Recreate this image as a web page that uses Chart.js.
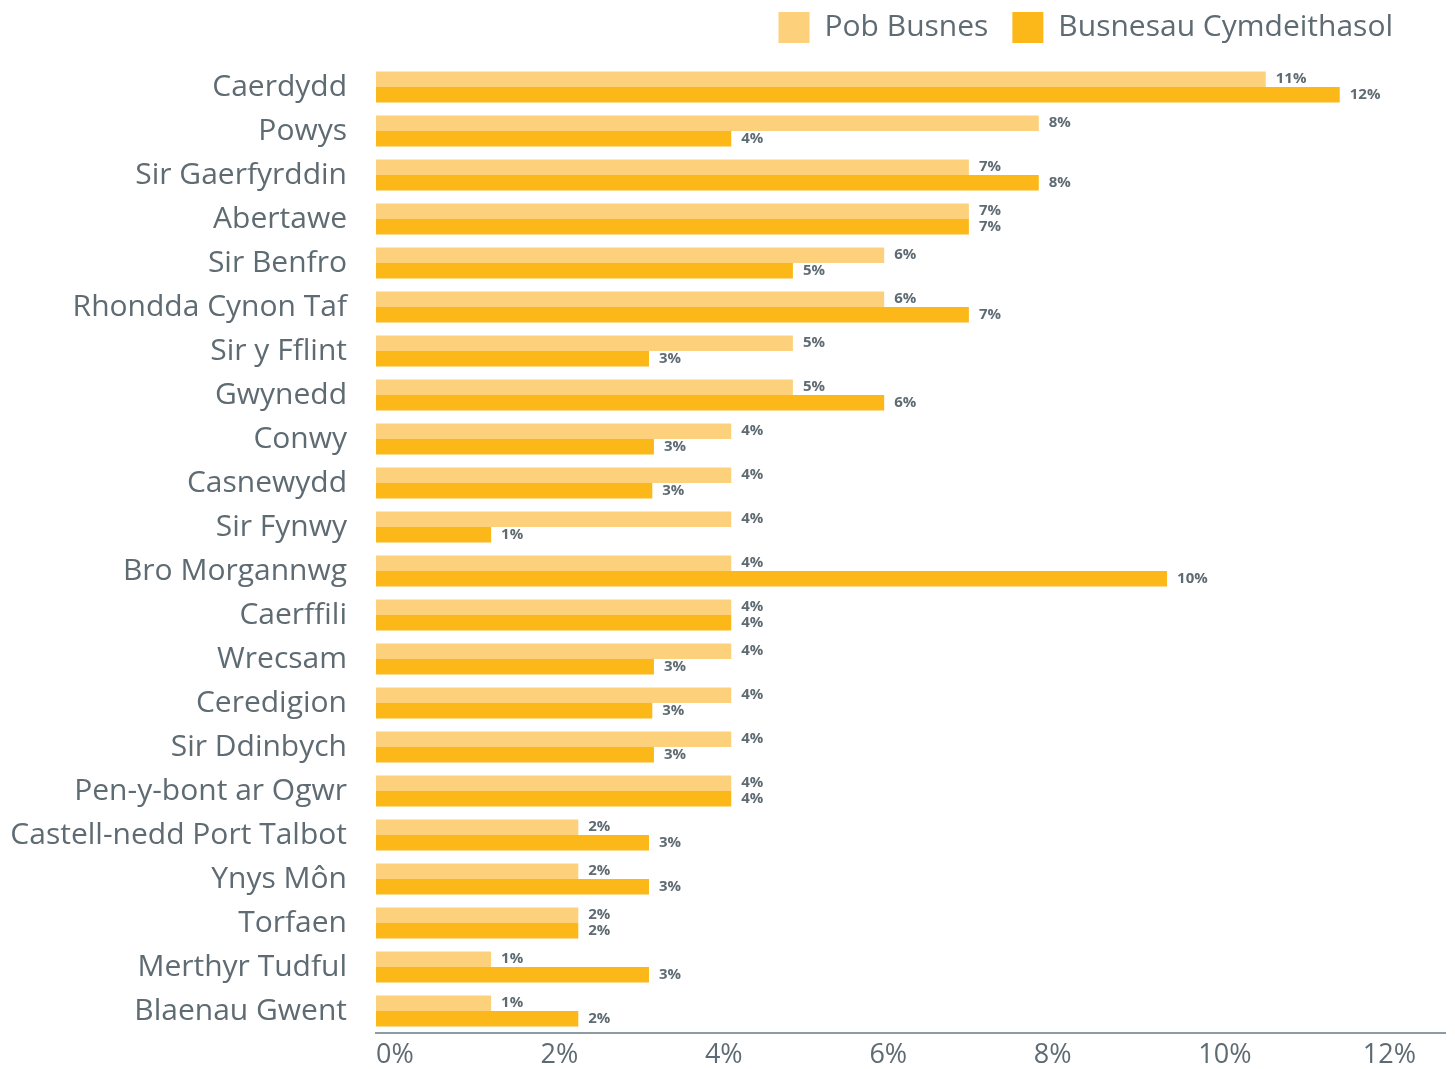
<!DOCTYPE html>
<html>
<head>
<meta charset="utf-8">
<script src="https://cdn.jsdelivr.net/npm/chart.js@4.4.1/dist/chart.umd.min.js"></script>
<style>
  html, body { margin: 0; padding: 0; background: #ffffff; }
  #wrap { width: 1455px; height: 1069px; position: relative; }
</style>
</head>
<body>
<div id="wrap"><canvas id="c"></canvas></div>
<script>
const categories = [
  "Caerdydd", "Powys", "Sir Gaerfyrddin", "Abertawe", "Sir Benfro",
  "Rhondda Cynon Taf", "Sir y Fflint", "Gwynedd", "Conwy", "Casnewydd",
  "Sir Fynwy", "Bro Morgannwg", "Caerffili", "Wrecsam", "Ceredigion",
  "Sir Ddinbych", "Pen-y-bont ar Ogwr", "Castell-nedd Port Talbot",
  "Ynys Môn", "Torfaen", "Merthyr Tudful", "Blaenau Gwent"
];
const seriesNames = ["Pob Busnes", "Busnesau Cymdeithasol"];
const pobBusnes = [
  10.82, 8.06, 7.21, 7.21, 6.18,
  6.18, 5.07, 5.07, 4.32, 4.32,
  4.32, 4.32, 4.32, 4.32, 4.32,
  4.32, 4.32, 2.46,
  2.46, 2.46, 1.40, 1.40
];
const busnesauCymdeithasol = [
  11.72, 4.32, 8.06, 7.21, 5.07,
  7.21, 3.32, 6.18, 3.38, 3.36,
  1.40, 9.62, 4.32, 3.38, 3.36,
  3.38, 4.32, 3.32,
  3.32, 2.46, 3.32, 2.46
];
const xTickValues = [0, 2, 4, 6, 8, 10, 12];

const TEXT = "#5f6b73";
const FONT = "'Open Sans', 'Noto Sans', sans-serif";

const valueLabels = {
  id: "valueLabels",
  afterDatasetsDraw(chart) {
    const ctx = chart.ctx;
    ctx.save();
    ctx.font = "bold 15px " + FONT;
    ctx.fillStyle = TEXT;
    ctx.textAlign = "left";
    ctx.textBaseline = "middle";
    chart.data.datasets.forEach((ds, di) => {
      const meta = chart.getDatasetMeta(di);
      meta.data.forEach((bar, i) => {
        const v = ds.data[i];
        ctx.fillText(Math.round(v) + "%", bar.x + 10, bar.y);
      });
    });
    ctx.restore();
  }
};

const legendShift = {
  id: "legendShift",
  afterLayout(chart) {
    const lg = chart.legend;
    if (lg) {
      lg.right -= 28;
      lg.width -= 28;
      lg.top -= 12;
      lg.bottom -= 12;
    }
  }
};

new Chart(document.getElementById("c"), {
  type: "bar",
  data: {
    labels: categories,
    datasets: [
      { label: seriesNames[0], data: pobBusnes, backgroundColor: "#FDD17B", borderWidth: 0 },
      { label: seriesNames[1], data: busnesauCymdeithasol, backgroundColor: "#FBB818", borderWidth: 0 }
    ]
  },
  options: {
    indexAxis: "y",
    responsive: true,
    maintainAspectRatio: false,
    animation: false,
    layout: { padding: { left: 0, right: 10, top: 0, bottom: 0 } },
    datasets: { bar: { categoryPercentage: 0.71, barPercentage: 1.0 } },
    plugins: {
      legend: {
        position: "top",
        align: "end",
        labels: {
          boxWidth: 31,
          boxHeight: 31,
          padding: 24,
          color: TEXT,
          font: { family: FONT, size: 30 }
        }
      },
      tooltip: { enabled: false }
    },
    scales: {
      x: {
        type: "linear",
        min: 0,
        max: 13,
        afterBuildTicks(scale) {
          scale.ticks = xTickValues.map(v => ({ value: v }));
        },
        afterFit(scale) { scale.height = 36; },
        grid: { display: false, drawTicks: false },
        border: { display: true, color: "#8c9ba5", width: 2 },
        ticks: {
          align: "start",
          maxRotation: 0,
          padding: 6,
          color: TEXT,
          font: { family: FONT, size: 27 },
          callback: v => v + "%"
        }
      },
      y: {
        afterFit(scale) {
          scale.width = 376;
          scale.paddingTop = 0;
          scale.paddingBottom = 0;
        },
        grid: { display: false, drawTicks: false },
        border: { display: false },
        ticks: {
          padding: 29,
          color: TEXT,
          font: { family: FONT, size: 30 },
          autoSkip: false
        }
      }
    }
  },
  plugins: [valueLabels, legendShift]
});
</script>
</body>
</html>
